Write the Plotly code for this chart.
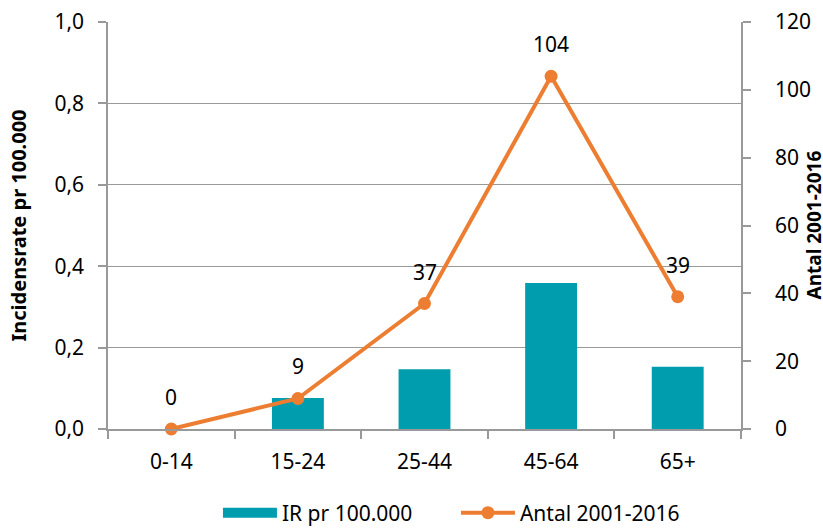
import plotly.graph_objects as go

categories = ["0-14", "15-24", "25-44", "45-64", "65+"]
ir_values = [0.0, 0.076, 0.147, 0.359, 0.153]
antal_values = [0, 9, 37, 104, 39]
left_ticks = [0, 0.2, 0.4, 0.6, 0.8, 1.0]
right_ticks = [0, 20, 40, 60, 80, 100, 120]

FONT = "Noto Sans"
TEAL = "#009DAE"
ORANGE = "#ED7D31"
AX = "#999999"

fig = go.Figure()
fig.add_trace(go.Bar(
    x=categories, y=ir_values, name="IR pr 100.000",
    marker=dict(color=TEAL, line=dict(width=0)),
    width=0.41, yaxis="y", showlegend=False,
))
# legend proxy giving a wide rectangle swatch for the bars
fig.add_trace(go.Scatter(
    x=[categories[0]], y=[None], name="IR pr 100.000", mode="lines",
    line=dict(color=TEAL, width=15), yaxis="y",
))
fig.add_trace(go.Scatter(
    x=categories, y=antal_values, name="Antal 2001-2016",
    mode="lines+markers",
    line=dict(color=ORANGE, width=4), marker=dict(color=ORANGE, size=13),
    yaxis="y2", cliponaxis=False,
))
# data labels above the line points
for c, v in zip(categories, antal_values):
    fig.add_annotation(x=c, y=v, xref="x", yref="y2", text=str(v),
                       showarrow=False, yshift=32,
                       font=dict(size=21, color="#000000", family=FONT))

axis_common = dict(
    ticks="outside", ticklen=8, tickcolor=AX, tickwidth=1.5,
    showline=True, linecolor=AX, linewidth=1.5, automargin=False,
    tickfont=dict(size=21), ticklabeloverflow="allow",
)

fig.update_layout(
    width=823, height=529,
    margin=dict(l=108, r=82, t=22, b=100),
    plot_bgcolor="white", paper_bgcolor="white",
    separators=",.",
    font=dict(family=FONT, size=21, color="#000000"),
    xaxis=dict(type="category", tickson="boundaries", showgrid=False,
               ticklabelstandoff=13, **axis_common),
    yaxis=dict(
        range=[0, 1.0], tickvals=left_ticks, tickformat=".1f",
        showgrid=True, gridcolor=AX, gridwidth=1.3, zeroline=False,
        ticklabelstandoff=10,
        title=dict(text="<b>Incidensrate pr 100.000</b>", font=dict(size=20), standoff=22),
        **axis_common,
    ),
    yaxis2=dict(
        range=[0, 120], tickvals=right_ticks, overlaying="y", side="right",
        showgrid=False, zeroline=False, ticklabelstandoff=20,
        **axis_common,
    ),
    legend=dict(
        orientation="h", xref="container", yref="container",
        x=0.554, xanchor="center", y=16 / 529, yanchor="middle",
        font=dict(size=21), itemwidth=54, entrywidth=169, traceorder="normal",
    ),
)
# right axis title placed at the chart's right edge
fig.add_annotation(text="<b>Antal 2001-2016</b>", xref="paper", yref="paper",
                   x=1, y=0.5, xanchor="center", yanchor="middle", xshift=72,
                   textangle=-90, showarrow=False, font=dict(size=19, family=FONT))
fig.write_html(
    "out.html",
    config={"displayModeBar": False},
    post_script="document.body.style.margin='0';document.body.style.overflow='hidden';",
)
